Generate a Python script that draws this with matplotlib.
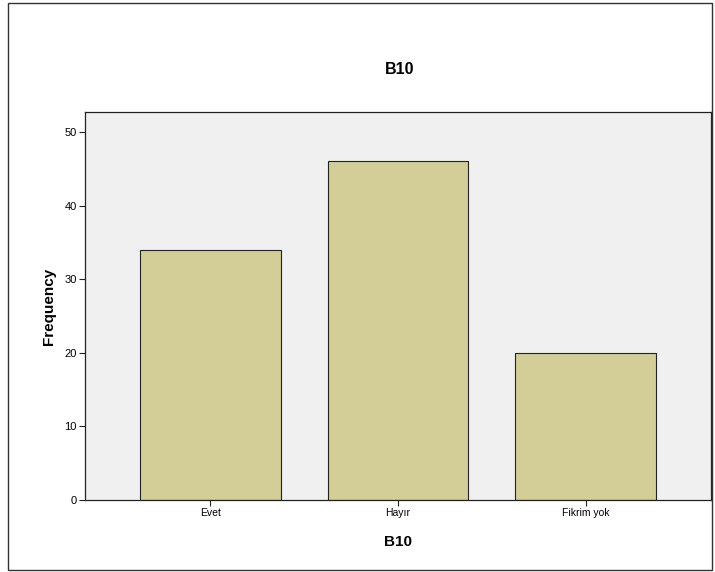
import matplotlib.pyplot as plt
from matplotlib.patches import Rectangle

categories = ['Evet', 'Hayır', 'Fikrim yok']
counts = [34, 46, 20]
yticks = [0, 10, 20, 30, 40, 50]

fig = plt.figure(figsize=(7.15, 5.72), dpi=100)
fig.patch.set_facecolor('white')

# outer frame like the SPSS output box
fig.patches.append(Rectangle((8 / 715, 2 / 572), 704 / 715, 567 / 572,
                             transform=fig.transFigure, fill=False,
                             edgecolor='#333333', linewidth=1.0))

ax = fig.add_axes([85 / 715, 72 / 572, 626 / 715, 388 / 572])
ax.set_facecolor('#F0F0F0')

x = range(len(categories))
ax.bar(x, counts, width=0.75, color='#D3CE98', edgecolor='#222222', linewidth=0.8)

ax.set_xlim(-2 / 3, 2 + 2 / 3)
ax.set_ylim(0, 52.7)
ax.set_xticks(list(x))
ax.set_xticklabels(categories, fontsize=7.5)
ax.set_yticks(yticks)
ax.set_yticklabels([str(t) for t in yticks], fontsize=8)
ax.tick_params(axis='both', direction='out', length=4, width=0.8, pad=2, color='#222222')

for s in ax.spines.values():
    s.set_color('#222222')
    s.set_linewidth(0.9)

ax.set_xlabel('B10', fontsize=11, fontweight='bold', labelpad=12)
ax.set_ylabel('Frequency', fontsize=11, fontweight='bold', labelpad=6)
fig.text(400 / 715, 1 - 70 / 572, 'B10', ha='center', va='center',
         fontsize=11.5, fontweight='bold', family='Liberation Sans')

for lbl in [ax.xaxis.label, ax.yaxis.label] + ax.get_xticklabels() + ax.get_yticklabels():
    lbl.set_family('Liberation Sans')

plt.savefig('out.png', dpi=100)
